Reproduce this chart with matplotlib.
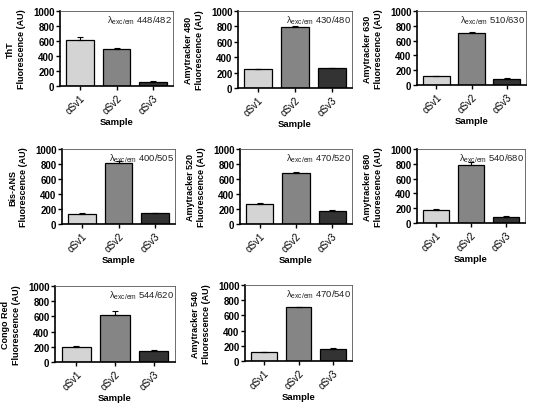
import matplotlib
matplotlib.use("Agg")
import matplotlib.pyplot as plt
from matplotlib import font_manager
import numpy as np

# keep matplotlib away from the condensed Liberation Sans Narrow files
font_manager.fontManager.ttflist = [f for f in font_manager.fontManager.ttflist
                                    if "Narrow" not in f.fname]
plt.rcParams["font.family"] = ["Liberation Sans", "DejaVu Sans"]
plt.rcParams["mathtext.fontset"] = "custom"
plt.rcParams["mathtext.rm"] = "Liberation Sans"

samples = ["αSv1", "αSv2", "αSv3"]
LIGHT = "#d4d4d4"
MID = "#858585"
DARK = "#333333"
bar_colors = [LIGHT, MID, DARK]

# dye names, excitation/emission, mean and error per sample
dyes = ["ThT", "Amytracker 480", "Amytracker 630",
        "Bis-ANS", "Amytracker 520", "Amytracker 680",
        "Congo Red", "Amytracker 540"]
wavelengths = ["448/482", "430/480", "510/630",
               "400/505", "470/520", "540/680",
               "544/620", "470/540"]
means = [
    [610, 495, 58],
    [245, 795, 255],
    [118, 700, 85],
    [135, 810, 145],
    [265, 680, 180],
    [182, 780, 80],
    [200, 620, 150],
    [120, 705, 160],
]
errors = [
    [40, 8, 8],
    [3, 8, 8],
    [4, 10, 6],
    [8, 25, 4],
    [10, 8, 6],
    [3, 40, 8],
    [6, 45, 6],
    [3, 10, 6],
]

# axes boxes in pixels: left, top, right, bottom
boxes = [
    (60, 12, 173, 87), (238, 12, 352, 89), (417, 12, 526, 86),
    (62, 150, 175, 225), (240, 150, 352, 225), (417, 150, 525, 224),
    (55, 287, 175, 363), (245, 286, 352, 362),
]

W, H = 533, 406
fig = plt.figure(figsize=(W / 100, H / 100), dpi=100)

for i in range(len(dyes)):
    l, t, r, b = boxes[i]
    ax = fig.add_axes([l / W, 1 - b / H, (r - l) / W, (b - t) / H])
    x = np.arange(len(samples))
    ax.bar(x, means[i], width=0.75, color=bar_colors, edgecolor="black",
           linewidth=0.9, zorder=2)
    ax.errorbar(x, means[i], yerr=[[0] * 3, errors[i]], fmt="none",
                ecolor="black", elinewidth=0.8, capsize=2.5, capthick=0.8, zorder=3)
    ax.set_xlim(-0.55, 2.55)
    ax.set_ylim(0, 1000)
    ax.set_yticks([0, 200, 400, 600, 800, 1000])
    ax.set_xticks(x)
    ax.set_xticklabels(samples, rotation=45, ha="right", rotation_mode="anchor",
                       fontsize=7)
    ax.tick_params(axis="y", labelsize=7, length=3, width=1, pad=1)
    ax.tick_params(axis="x", length=3, width=1, pad=2)
    for lab in ax.get_yticklabels():
        lab.set_fontweight("bold")
    ax.set_xlabel("Sample", fontsize=6.8, fontweight="bold", labelpad=1)
    ax.set_ylabel(dyes[i] + "\nFluorescence (AU)", fontsize=6.5,
                  fontweight="bold", labelpad=5, linespacing=1.25)
    ax.spines["left"].set_linewidth(1.2)
    ax.spines["bottom"].set_linewidth(1.2)
    ax.spines["top"].set_linewidth(0.6)
    ax.spines["right"].set_linewidth(0.6)
    ax.spines["top"].set_color("#555555")
    ax.spines["right"].set_color("#555555")
    ax.text(0.99, 0.97, r"λ$_{\mathrm{exc/em}}$ " + wavelengths[i],
            transform=ax.transAxes, ha="right", va="top", fontsize=6.8,
            color="#222222")

fig.savefig("out.png", dpi=100)
